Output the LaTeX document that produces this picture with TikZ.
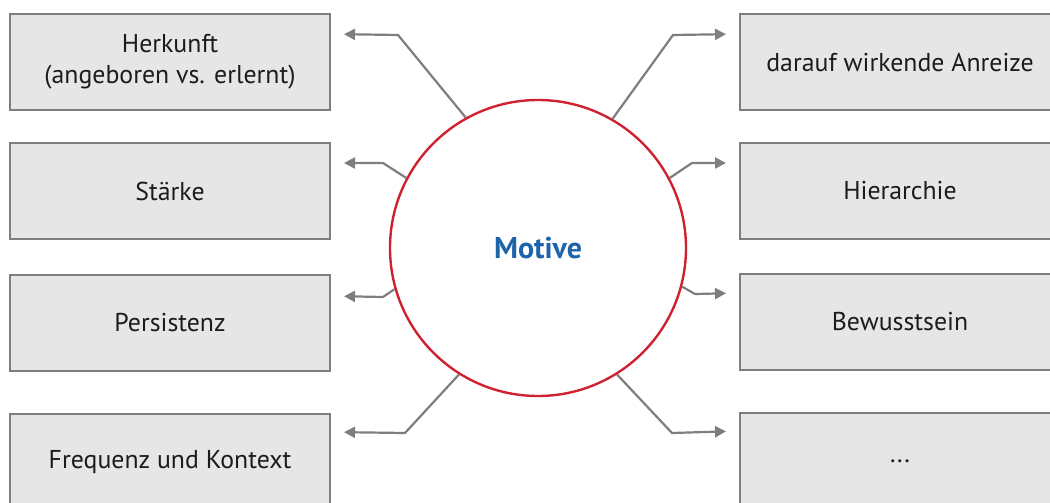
\documentclass[tikz,border=0pt]{standalone}
\usepackage{fontspec}
\setmainfont{PT Sans}
\usepackage{tikz}
\usetikzlibrary{arrows.meta}
\definecolor{boxgray}{HTML}{E6E6E6}
\definecolor{linegray}{HTML}{7E7E7E}
\definecolor{motivered}{HTML}{CF2230}
\definecolor{motiveblue}{HTML}{1F64AA}
\definecolor{textdark}{HTML}{1E1B1C}

\begin{document}
\begin{tikzpicture}[x=0.5pt,y=-0.5pt,
    prop box/.style={rectangle,draw=linegray,fill=boxgray,line width=1pt,
        minimum width=160pt,minimum height=48pt,align=center,
        text=textdark,font=\fontsize{12.9}{15.5}\selectfont},
    link/.style={draw=linegray,line width=1.1pt,
        -{Triangle[length=5.5pt,width=5.5pt]},shorten >=6.5pt}]

    \clip (0,0) rectangle (1050,503);

    \node[circle,draw=motivered,line width=1.2pt,inner sep=0pt,minimum size=148pt,
          font=\bfseries\fontsize{15}{18}\selectfont,text=motiveblue] (M) at (538,248) {Motive};

    \node[prop box] (herkunft)   at (170,62)  {Herkunft\\(angeboren vs. erlernt)};
    \node[prop box] (staerke)    at (170,191) {Stärke};
    \node[prop box] (persistenz) at (170,323) {Persistenz};
    \node[prop box] (frequenz)   at (170,462) {Frequenz und Kontext};

    \node[prop box] (anreize)    at (900,62)  {darauf wirkende Anreize};
    \node[prop box] (hierarchie) at (900,191) {Hierarchie};
    \node[prop box] (bewusst)    at (900,322) {Bewusstsein};
    \node[prop box] (weitere)    at (900,461) {...};

    \draw[link] (M.119) -- (398,35)  -- ([yshift=-10.5pt]herkunft.north east);
    \draw[link] (M.152) -- (383,163) -- ([yshift=-10.5pt]staerke.north east);
    \draw[link] (M.196) -- (383,297) -- ([yshift=-11pt]persistenz.north east);
    \draw[link] (M.238) -- (405,433) -- ([yshift=-9.5pt]frequenz.north east);

    \draw[link] (M.60)  -- (673,35)  -- ([yshift=-10.5pt]anreize.north west);
    \draw[link] (M.28)  -- (692,163) -- ([yshift=-10.5pt]hierarchie.north west);
    \draw[link] (M.-15) -- (695,294) -- ([yshift=-10pt]bewusst.north west);
    \draw[link] (M.-58) -- (672,433) -- ([yshift=-9.5pt]weitere.north west);

\end{tikzpicture}
\end{document}
